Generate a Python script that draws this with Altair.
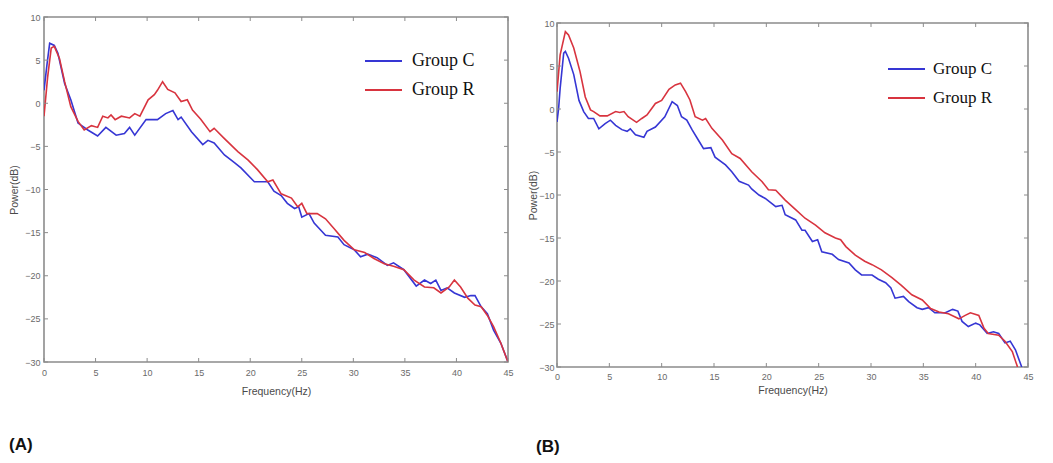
import altair as alt
import pandas as pd

# ---------------- data ----------------
A_C_f = [0, 0.3, 0.55, 1.0, 1.35, 2.0, 2.6, 3.3, 4.25, 5.2, 6.0, 7.0, 7.8, 8.3, 8.8, 9.9, 11.0, 11.8, 12.5, 13.0,
         13.3, 14.3, 15.4, 15.9, 16.5, 17.5, 18.5, 19.1, 20.4, 21.7, 22.3, 23.0, 23.6, 24.3, 24.7, 25.0, 25.7, 26.2,
         27.3, 28.5, 29.1, 30.1, 30.7, 31.4, 32.3, 33.3, 33.9, 34.9, 36.1, 36.9, 37.5, 38.0, 38.5, 39.1, 39.8, 40.8,
         41.4, 41.8, 42.4, 43.0, 43.6, 44.3, 45.0]
A_C_v = [1.5, 4.6, 6.95, 6.7, 5.8, 2.3, 0.4, -2.3, -3.1, -3.8, -2.8, -3.7, -3.5, -2.8, -3.7, -1.9, -1.9, -1.2, -0.85, -1.9,
         -1.6, -3.3, -4.8, -4.3, -4.6, -6.0, -6.9, -7.5, -9.1, -9.1, -10.2, -10.7, -11.6, -12.2, -12.0, -13.2, -12.8, -13.9,
         -15.3, -15.5, -16.4, -17.0, -17.8, -17.5, -17.9, -18.8, -18.5, -19.3, -21.2, -20.5, -20.9, -20.5, -21.7, -21.4, -22.0, -22.5,
         -22.3, -22.3, -23.6, -24.4, -26.3, -27.8, -30.0]

A_R_f = [0, 0.35, 0.7, 1.0, 1.5, 2.0, 2.6, 3.3, 3.9, 4.6, 5.2, 5.7, 6.2, 6.5, 6.9, 7.5, 8.3, 8.8, 9.3, 10.1,
         10.7, 11.0, 11.5, 12.0, 12.7, 13.3, 13.9, 14.4, 15.2, 16.1, 16.5, 17.5, 18.8, 19.8, 20.7, 21.7, 22.2, 23.0,
         24.0, 24.6, 25.0, 25.5, 26.5, 27.3, 28.1, 29.1, 30.1, 31.1, 32.0, 33.0, 33.9, 34.9, 35.9, 36.9, 37.8, 38.5,
         39.3, 39.8, 40.4, 41.1, 41.8, 42.4, 43.0, 43.6, 44.3, 45.0]
A_R_v = [-1.5, 3.0, 6.4, 6.6, 5.2, 2.5, -0.4, -2.1, -3.1, -2.6, -2.8, -1.5, -1.7, -1.35, -1.9, -1.5, -1.7, -1.2, -1.5, 0.4,
         1.0, 1.5, 2.5, 1.6, 1.2, 0.2, 0.4, -0.8, -1.85, -3.3, -2.9, -4.1, -5.6, -6.6, -7.7, -9.1, -8.9, -10.5,
         -11.0, -12.0, -11.6, -12.8, -12.8, -13.4, -14.5, -15.9, -17.0, -17.3, -18.0, -18.6, -18.9, -19.3, -20.5, -21.3, -21.4, -22.0,
         -21.3, -20.5, -21.3, -22.6, -23.4, -23.6, -24.6, -25.9, -27.8, -30.0]

B_C_f = [0, 0.15, 0.3, 0.64, 0.8, 1.1, 1.6, 2.1, 2.55, 3.0, 3.5, 4.0, 4.6, 5.1, 5.6, 6.2, 6.7, 7.0, 7.5, 8.3,
         8.6, 9.4, 10.3, 11.0, 11.5, 11.9, 12.4, 12.9, 13.5, 14.0, 14.7, 15.1, 16.1, 16.7, 17.4, 18.3, 18.6, 19.3,
         19.9, 20.9, 21.5, 21.8, 22.8, 23.4, 23.7, 24.4, 24.9, 25.3, 26.3, 26.9, 27.9, 28.5, 29.1, 30.1, 30.7, 31.4,
         31.9, 32.3, 33.1, 33.6, 34.4, 34.9, 35.5, 36.1, 37.1, 37.8, 38.3, 38.7, 39.3, 40.0, 40.4, 41.1, 41.7, 42.2,
         42.8, 43.3, 43.8, 44.4]
B_C_v = [-1.5, 0.0, 2.4, 6.5, 6.7, 5.9, 4.0, 1.0, -0.3, -1.1, -1.1, -2.3, -1.7, -1.3, -1.9, -2.4, -2.6, -2.3, -3.0, -3.3,
         -2.6, -2.1, -0.9, 0.85, 0.4, -0.9, -1.3, -2.4, -3.6, -4.6, -4.5, -5.6, -6.5, -7.3, -8.4, -8.85, -9.3, -10.0,
         -10.4, -11.35, -11.2, -12.3, -12.9, -14.1, -14.1, -15.4, -15.2, -16.6, -16.9, -17.5, -17.9, -18.7, -19.3, -19.3, -19.8, -20.2,
         -20.8, -22.0, -21.8, -22.4, -23.1, -23.3, -23.1, -23.7, -23.7, -23.3, -23.5, -24.7, -25.3, -24.9, -25.1, -26.1, -25.9, -26.1,
         -27.2, -27.0, -28.0, -30.0]

B_R_f = [0, 0.3, 0.8, 1.1, 1.6, 2.2, 2.7, 3.2, 3.5, 4.1, 4.8, 5.6, 6.0, 6.4, 6.8, 7.6, 8.1, 8.6, 9.4, 10.0,
         10.7, 11.3, 11.8, 12.3, 12.7, 13.2, 13.9, 14.2, 14.8, 15.8, 16.7, 17.5, 18.6, 19.6, 20.2, 20.9, 21.8, 22.8,
         23.7, 24.7, 25.6, 26.6, 27.1, 27.6, 28.5, 29.4, 30.1, 31.0, 32.0, 32.9, 33.9, 34.9, 35.7, 36.5, 37.4, 38.4,
         39.0, 39.5, 40.3, 40.8, 41.2, 42.2, 42.8, 43.5, 44.0]
B_R_v = [2.0, 6.3, 9.0, 8.6, 7.1, 4.35, 1.4, -0.1, -0.3, -0.8, -0.8, -0.3, -0.4, -0.3, -0.9, -1.55, -1.1, -0.7, 0.65, 1.0,
         2.3, 2.8, 3.0, 2.0, 1.05, -0.9, -1.3, -1.1, -2.25, -3.6, -5.2, -5.75, -7.3, -8.45, -9.4, -9.45, -10.6, -11.7,
         -12.7, -13.5, -14.4, -15.0, -15.2, -16.0, -17.0, -17.7, -18.1, -18.7, -19.6, -20.5, -21.6, -22.2, -23.2, -23.6, -23.8, -24.4,
         -24.0, -23.7, -24.0, -25.5, -26.1, -26.3, -27.0, -28.2, -30.0]

X_TICKS = [0, 5, 10, 15, 20, 25, 30, 35, 40, 45]
Y_TICKS = [-30, -25, -20, -15, -10, -5, 0, 5, 10]
GROUPS = ["Group C", "Group R"]
COLORS = ["#3636d4", "#d8343f"]
PANEL_LABELS = ["(A)", "(B)"]

FRAME = "#8c8c8c"
TICK_FONT = "Liberation Sans Narrow, Liberation Sans, Arial, sans-serif"


def series_df(fc, vc, fr, vr):
    return pd.concat([
        pd.DataFrame({"f": fc, "p": vc, "g": GROUPS[0]}),
        pd.DataFrame({"f": fr, "p": vr, "g": GROUPS[1]}),
    ], ignore_index=True)


def panel(df, W, H, label, lab_x, lab_y, leg_x, leg_y, leg_font, leg_off,
          y_lpad, y_tpad, x_lpad, x_tpad):
    xs = alt.Scale(domain=[0, 45], nice=False, zero=False)
    ys = alt.Scale(domain=[-30, 10], nice=False, zero=False)

    lines = alt.Chart(df).mark_line(strokeWidth=1.6, clip=True).encode(
        x=alt.X("f:Q", scale=xs, axis=alt.Axis(values=X_TICKS, title="Frequency(Hz)",
                                               labelPadding=x_lpad, titlePadding=x_tpad,
                                               labelFlush=False)),
        y=alt.Y("p:Q", scale=ys, axis=alt.Axis(values=Y_TICKS, title="Power(dB)",
                                               labelPadding=y_lpad, titlePadding=y_tpad,
                                               labelFlush=False)),
        color=alt.Color("g:N", scale=alt.Scale(domain=GROUPS, range=COLORS),
                        legend=alt.Legend(orient="none", legendX=leg_x, legendY=leg_y, title=None,
                                          symbolType="stroke", symbolSize=1369, symbolStrokeWidth=2,
                                          clipHeight=20, rowPadding=9, padding=0,
                                          labelFont="Liberation Serif", labelFontSize=leg_font,
                                          labelColor="#111111", labelOffset=leg_off)),
    )

    xt = pd.DataFrame({"f": X_TICKS})
    yt = pd.DataFrame({"p": Y_TICKS})
    rule = dict(color=FRAME, strokeWidth=1)
    bottom = alt.Chart(xt).mark_rule(**rule).encode(
        x=alt.X("f:Q", scale=xs), y=alt.value(H), y2=alt.value(H - 4))
    top = alt.Chart(xt).mark_rule(**rule).encode(
        x=alt.X("f:Q", scale=xs), y=alt.value(0), y2=alt.value(4))
    left = alt.Chart(yt).mark_rule(**rule).encode(
        y=alt.Y("p:Q", scale=ys), x=alt.value(0), x2=alt.value(4))
    right = alt.Chart(yt).mark_rule(**rule).encode(
        y=alt.Y("p:Q", scale=ys), x=alt.value(W - 4), x2=alt.value(W))

    lab = alt.Chart(pd.DataFrame({"t": [label]})).mark_text(
        align="left", baseline="middle", fontSize=17, fontWeight="bold",
        font="Liberation Sans Narrow, Liberation Sans, Arial, sans-serif", color="#111111"
    ).encode(x=alt.value(lab_x), y=alt.value(lab_y), text="t:N")

    return alt.layer(lines, bottom, top, left, right, lab).properties(width=W, height=H)


pa = panel(series_df(A_C_f, A_C_v, A_R_f, A_R_v), 464, 345, PANEL_LABELS[0], -35, 428,
           320, 34, 18, 9, 4, 5, 6, 9)
pb = panel(series_df(B_C_f, B_C_v, B_R_f, B_R_v), 471, 344, PANEL_LABELS[1], -21, 424,
           330, 42, 17, 7, 3, 0, 5, 4)

# an empty, invisible strip above panel B (B's frame sits a little lower than A's)
spacer = alt.Chart(pd.DataFrame({"t": [""]})).mark_text(opacity=0).encode(
    x=alt.value(0), y=alt.value(0), text="t:N"
).properties(width=1, height=1, view=alt.ViewBackground(stroke="transparent"))

right_col = alt.vconcat(spacer, pb, spacing=-7)

chart = alt.hconcat(pa, right_col, spacing=13).resolve_legend(color="independent").properties(
    padding={"left": 0, "top": 2, "right": 0, "bottom": 0}
).configure_view(
    stroke=FRAME, strokeWidth=1.6
).configure_axis(
    domain=False, ticks=False, grid=False,
    labelColor="#6a6a6a", labelFontSize=9, labelFont=TICK_FONT,
    titleColor="#4a4a4a", titleFontSize=10.5, titleFont="Liberation Sans, Arial, sans-serif",
    titleFontWeight="normal"
)

chart.save("out.html", embed_options={"renderer": "svg", "actions": False})
